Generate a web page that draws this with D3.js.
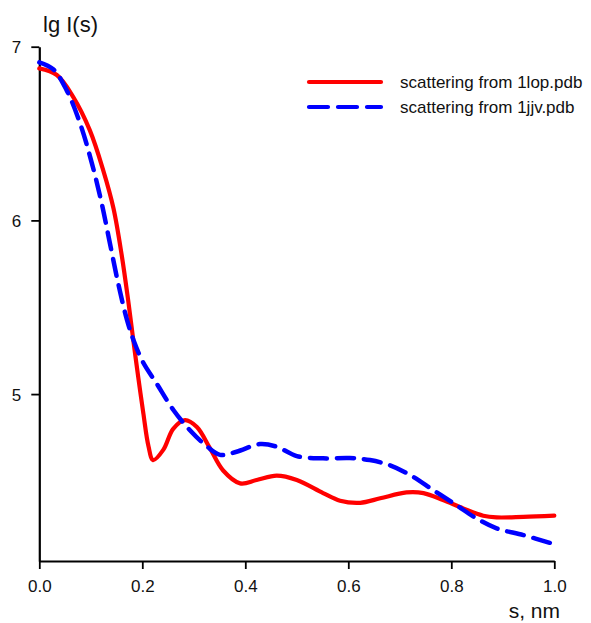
<!DOCTYPE html>
<html>
<head>
<meta charset="utf-8">
<script src="https://cdn.jsdelivr.net/npm/d3@7"></script>
<style>
  html, body { margin: 0; padding: 0; background: #ffffff; }
  svg { display: block; font-family: Arial, "Liberation Sans", sans-serif; }
</style>
</head>
<body>
<svg id="chart" width="591" height="623"></svg>
<script>
// ---- data ----
const sRed = [0, 0.034, 0.066, 0.098, 0.124, 0.144, 0.160, 0.173, 0.183, 0.192, 0.202, 0.212, 0.221, 0.241, 0.260, 0.283, 0.306, 0.331, 0.357, 0.390, 0.422, 0.461, 0.500, 0.551, 0.584, 0.623, 0.662, 0.713, 0.746, 0.784, 0.823, 0.862, 0.888, 0.940, 1.0];
const lgRed = [6.875, 6.837, 6.71, 6.52, 6.29, 6.07, 5.80, 5.53, 5.30, 5.10, 4.89, 4.70, 4.62, 4.68, 4.80, 4.85, 4.81, 4.69, 4.56, 4.486, 4.505, 4.53, 4.505, 4.43, 4.386, 4.374, 4.40, 4.434, 4.43, 4.39, 4.342, 4.30, 4.29, 4.293, 4.30];

const sBlue = [0, 0.027, 0.053, 0.079, 0.102, 0.121, 0.137, 0.153, 0.170, 0.183, 0.202, 0.228, 0.260, 0.293, 0.325, 0.351, 0.383, 0.4285, 0.461, 0.500, 0.551, 0.603, 0.642, 0.681, 0.720, 0.765, 0.810, 0.849, 0.888, 0.940, 1.0];
const lgBlue = [6.91, 6.87, 6.75, 6.56, 6.33, 6.10, 5.87, 5.64, 5.43, 5.31, 5.18, 5.06, 4.91, 4.79, 4.70, 4.65, 4.668, 4.712, 4.697, 4.643, 4.63, 4.632, 4.62, 4.59, 4.534, 4.447, 4.36, 4.284, 4.227, 4.188, 4.136];

const xTicks = [0, 0.2, 0.4, 0.6, 0.8, 1.0];
const yTicks = [5, 6, 7];
const seriesNames = ["scattering from 1lop.pdb", "scattering from 1jjv.pdb"];
const seriesColors = ["#ff0000", "#0000ff"];
const xTitle = "s, nm";
const yTitle = "lg I(s)";

// ---- layout ----
const svg = d3.select("#chart");
const x = d3.scaleLinear().domain([0, 1]).range([39.3, 554.3]);
const y = d3.scaleLinear().domain([4.039, 7]).range([561, 46.7]);

const fmtX = d3.format(".1f");

// x axis
const gx = svg.append("g").attr("transform", `translate(0,${y(4.039)})`)
  .call(d3.axisBottom(x).tickValues(xTicks).tickFormat(fmtX).tickSize(8).tickSizeOuter(0).tickPadding(11));
// y axis
const gy = svg.append("g").attr("transform", `translate(${x(0)},0)`)
  .call(d3.axisLeft(y).tickValues(yTicks).tickFormat(d3.format("d")).tickSize(8).tickSizeOuter(0).tickPadding(10));

[gx, gy].forEach(g => {
  g.select(".domain").attr("stroke", "#000").attr("stroke-width", 2.2);
  g.selectAll(".tick line").attr("stroke", "#000").attr("stroke-width", 1.8);
  g.selectAll(".tick text").attr("fill", "#111").style("font-size", "17px")
    .style("font-family", "Arial, 'Liberation Sans', sans-serif");
});
gx.selectAll(".tick text").attr("dy", "0.71em");
gy.selectAll(".tick text").attr("dy", "0.36em");

// axis titles
svg.append("text").attr("x", 43).attr("y", 32).attr("fill", "#111")
  .style("font-size", "22px").text(yTitle);
svg.append("text").attr("x", 560).attr("y", 618).attr("text-anchor", "end").attr("fill", "#111")
  .style("font-size", "21px").text(xTitle);

// lines
const line = d3.line().x(d => x(d[0])).y(d => y(d[1])).curve(d3.curveCatmullRom.alpha(0.5));
const redData = sRed.map((s, i) => [s, lgRed[i]]);
const blueData = sBlue.map((s, i) => [s, lgBlue[i]]);

svg.append("path").datum(redData).attr("d", line)
  .attr("fill", "none").attr("stroke", seriesColors[0]).attr("stroke-width", 4.2)
  .attr("stroke-linejoin", "round").attr("stroke-linecap", "round");
svg.append("path").datum(blueData).attr("d", line)
  .attr("fill", "none").attr("stroke", seriesColors[1]).attr("stroke-width", 4.5)
  .attr("stroke-dasharray", "17,10").attr("stroke-linecap", "round").attr("stroke-linejoin", "round");

// legend
const legend = svg.append("g");
const rows = [82, 107];
seriesNames.forEach((name, i) => {
  const l = legend.append("line").attr("x1", 309).attr("x2", 381).attr("y1", rows[i]).attr("y2", rows[i])
    .attr("stroke", seriesColors[i]).attr("stroke-width", 4.2).attr("stroke-linecap", "round");
  if (i === 1) l.attr("stroke-dasharray", "19,10");
  legend.append("text").attr("x", 400).attr("y", rows[i] + 6).attr("fill", "#111")
    .style("font-size", "17px").text(name);
});
</script>
</body>
</html>
